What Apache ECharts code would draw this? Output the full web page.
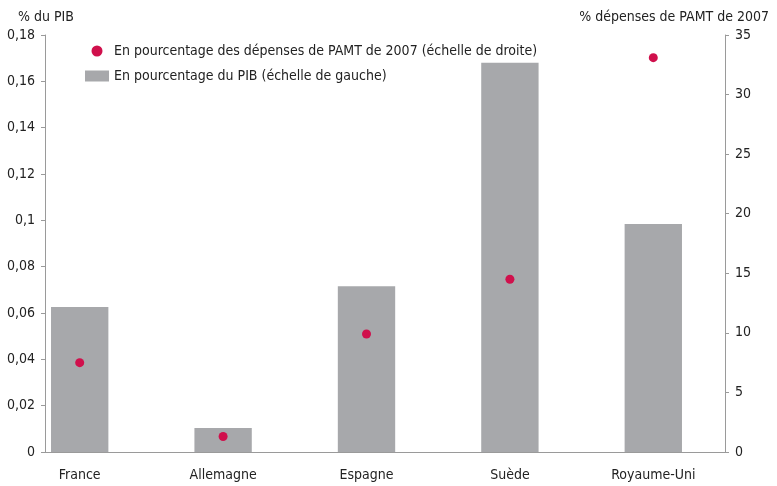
<!DOCTYPE html>
<html>
<head>
<meta charset="utf-8">
<script src="https://cdn.jsdelivr.net/npm/echarts@6/dist/echarts.min.js"></script>
<style>
  html, body { margin: 0; padding: 0; background: #fff; }
  #main { width: 777px; height: 486px; }
</style>
</head>
<body>
<div id="main"></div>
<script>
// données
var pays = ['France', 'Allemagne', 'Espagne', 'Suède', 'Royaume-Uni'];
var partPib = [0.0626, 0.0104, 0.0716, 0.168, 0.0984];       // échelle de gauche
var partDepenses = [7.5, 1.3, 9.9, 14.5, 33.1];              // échelle de droite
var ticksGauche = { min: 0, max: 0.18, interval: 0.02 };
var ticksDroite = { min: 0, max: 35, interval: 5 };

var police = '"Liberation Sans Narrow", "DejaVu Sans Condensed", "Liberation Sans", sans-serif';
var gris = '#a7a8ab';
var rouge = '#d0104c';
var axe = '#9a9a9a';

var myChart = echarts.init(document.getElementById('main'));
myChart.setOption({
  animation: false,
  textStyle: { fontFamily: police, color: '#222' },
  title: [
    { text: '% du PIB', left: 13, top: 5,
      textStyle: { fontFamily: police, fontSize: 14, fontWeight: 'normal', color: '#222' } },
    { text: '% dépenses de PAMT de 2007', right: 3, top: 5,
      textStyle: { fontFamily: police, fontSize: 14, fontWeight: 'normal', color: '#222' } }
  ],
  legend: {
    orient: 'vertical',
    left: 80, top: 39,
    itemWidth: 24, itemHeight: 11, itemGap: 11,
    textStyle: { fontFamily: police, fontSize: 14, color: '#222' },
    data: [
      { name: 'En pourcentage des dépenses de PAMT de 2007 (échelle de droite)', icon: 'circle' },
      { name: 'En pourcentage du PIB (échelle de gauche)', icon: 'rect' }
    ]
  },
  grid: [
    { left: 45, right: 52, top: 35, bottom: 34 },
    { left: 8, right: 52, top: 35, bottom: 34 }
  ],
  xAxis: [
    { type: 'category', gridIndex: 0, data: pays,
      axisLine: { lineStyle: { color: axe } },
      axisTick: { alignWithLabel: false, length: 4, lineStyle: { color: axe } },
      axisLabel: { show: false } },
    { type: 'category', gridIndex: 1, data: pays,
      axisLine: { show: false }, axisTick: { show: false },
      axisLabel: { fontFamily: police, fontSize: 14, color: '#222', margin: 16 } }
  ],
  yAxis: [
    { type: 'value', gridIndex: 0, position: 'left',
      min: ticksGauche.min, max: ticksGauche.max, interval: ticksGauche.interval,
      axisLine: { show: true, lineStyle: { color: axe } },
      axisTick: { show: true, length: 4, lineStyle: { color: axe } },
      splitLine: { show: false },
      axisLabel: { fontFamily: police, fontSize: 14, color: '#222', margin: 10,
        formatter: function (v) { return String(+v.toFixed(2)).replace('.', ','); } } },
    { type: 'value', gridIndex: 0, position: 'right',
      min: ticksDroite.min, max: ticksDroite.max, interval: ticksDroite.interval,
      axisLine: { show: true, lineStyle: { color: axe } },
      axisTick: { show: true, length: 4, lineStyle: { color: axe } },
      splitLine: { show: false },
      axisLabel: { fontFamily: police, fontSize: 14, color: '#222', margin: 10 } },
    { type: 'value', gridIndex: 1, show: false,
      min: ticksGauche.min, max: ticksGauche.max, splitLine: { show: false } },
    { type: 'value', gridIndex: 1, show: false,
      min: ticksDroite.min, max: ticksDroite.max, splitLine: { show: false } }
  ],
  series: [
    { name: 'En pourcentage du PIB (échelle de gauche)', type: 'bar',
      xAxisIndex: 1, yAxisIndex: 2, data: partPib, barWidth: '40%',
      itemStyle: { color: gris } },
    { name: 'En pourcentage des dépenses de PAMT de 2007 (échelle de droite)', type: 'scatter',
      xAxisIndex: 1, yAxisIndex: 3, data: partDepenses, symbolSize: 9, z: 5,
      itemStyle: { color: rouge, opacity: 1 } }
  ]
});
</script>
</body>
</html>
